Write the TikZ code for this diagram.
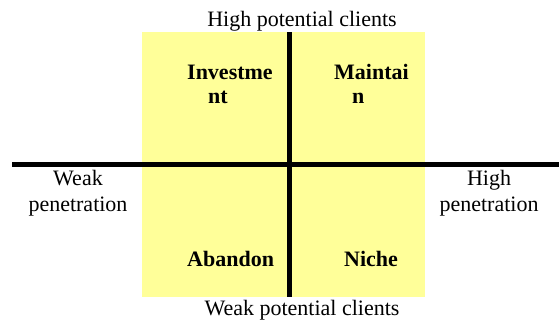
\documentclass[tikz,border=0pt]{standalone}
\usepackage{fontspec}
\setmainfont{Liberation Serif}
\usepackage{tikz}
\usetikzlibrary{positioning}
\definecolor{quadback}{RGB}{255,255,153}

\begin{document}
\begin{tikzpicture}[x=1pt,y=-1pt,
    axislbl/.style={font=\fontsize{22}{26}\selectfont,align=center,inner sep=0pt},
    quadlbl/.style={font=\fontsize{22}{24}\selectfont\bfseries,align=left,inner sep=0pt,anchor=base west}]
  \useasboundingbox (0,0) rectangle (559,322);
  % axis end points
  \coordinate (L) at (12,164);
  \coordinate (R) at (559,164);
  \coordinate (T) at (289,32);
  \coordinate (B) at (289,297);
  % yellow field
  \fill[quadback] (142,32) rectangle (425,297);
  % axes
  \draw[line width=5pt] (L) -- (R);
  \draw[line width=5pt] (T) -- (B);
  % axis labels
  \node[axislbl,anchor=base] (hi) at (302,26) {High potential clients};
  \node[axislbl,anchor=base] (lo) at (302,315) {Weak potential clients};
  \node[axislbl,anchor=north] (weak) at (78,170) {Weak\\penetration};
  \node[axislbl,anchor=north] (high) at (489,170) {High\\penetration};
  % quadrant labels (base = last line)
  \node[quadlbl] (invest) at (187,103) {Investme\\\hspace*{21pt}nt};
  \node[quadlbl] (maintain) at (334,103) {Maintai\\\hspace*{18pt}n};
  \node[quadlbl] (abandon) at (187,266) {Abandon};
  \node[quadlbl] (niche) at (344,266) {Niche};
\end{tikzpicture}
\end{document}
